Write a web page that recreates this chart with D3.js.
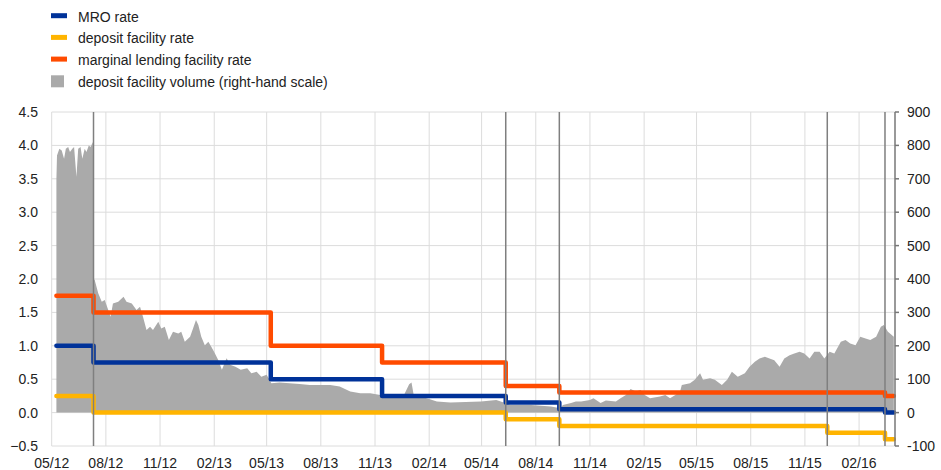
<!DOCTYPE html>
<html>
<head>
    <meta charset="utf-8">
    <title>ECB rates and deposit facility volume</title>
    <style>
    body { margin: 0; background: #fff; }
    text { font-family: "Liberation Sans", Arial, sans-serif; font-size: 14px; fill: #222; }
    .grid line { stroke: #dcdcdc; stroke-width: 1; }
    .event { stroke: #7f7f7f; stroke-width: 1.5; }
    .rate { fill: none; stroke-width: 4.5; stroke-linecap: round; stroke-linejoin: round; }
    </style>
</head>
<body>
    <svg width="941" height="470"></svg>
    <script src="https://d3js.org/d3.v7.min.js"></script>
    <script>
        // key ECB rates, step changes (last point = end of sample)
        var rateDates = ["2012-05-09","2012-07-11","2013-05-08","2013-11-13","2014-06-11","2014-09-10","2015-12-09","2016-03-16","2016-03-31"];
        var mroRate = [1.00, 0.75, 0.50, 0.25, 0.15, 0.05, 0.05, 0.00, 0.00];
        var depositRate = [0.25, 0.00, 0.00, 0.00, -0.10, -0.20, -0.30, -0.40, -0.40];
        var mlfRate = [1.75, 1.50, 1.00, 0.75, 0.40, 0.30, 0.30, 0.25, 0.25];

        // deposit facility volume, EUR bn (right-hand scale)
        var volDates = [
            "2012-05-09","2012-05-10","2012-05-14","2012-05-18","2012-05-22","2012-05-25","2012-05-29","2012-06-01","2012-06-05","2012-06-08",
            "2012-06-12","2012-06-15","2012-06-19","2012-06-22","2012-06-26","2012-06-29","2012-07-03","2012-07-06","2012-07-10","2012-07-11",
            "2012-07-13","2012-07-19","2012-07-25","2012-07-30","2012-08-05","2012-08-09","2012-08-13","2012-08-22","2012-08-31","2012-09-05",
            "2012-09-14","2012-09-22","2012-09-28","2012-10-03","2012-10-09","2012-10-15","2012-10-20","2012-10-29","2012-11-03","2012-11-09",
            "2012-11-16","2012-11-23","2012-12-02","2012-12-07","2012-12-13","2012-12-22","2012-12-27","2013-01-01","2013-01-05","2013-01-10",
            "2013-01-16","2013-01-22","2013-01-27","2013-02-02","2013-02-08","2013-02-14","2013-02-22","2013-02-28","2013-03-09","2013-03-18",
            "2013-03-29","2013-04-05","2013-04-14","2013-04-22","2013-05-01","2013-05-09","2013-05-23","2013-06-09","2013-06-26","2013-07-13",
            "2013-07-31","2013-08-17","2013-09-02","2013-09-20","2013-10-07","2013-10-24","2013-11-10","2013-11-27","2013-12-19","2013-12-29",
            "2014-01-02","2014-01-06","2014-01-11","2014-01-28","2014-02-14","2014-03-09","2014-04-30","2014-05-26","2014-06-10","2014-06-19",
            "2014-07-24","2014-08-27","2014-09-12","2014-09-16","2014-09-30","2014-10-08","2014-10-17","2014-11-01","2014-11-07","2014-11-19",
            "2014-11-28","2014-12-15","2014-12-23","2015-01-01","2015-01-09","2015-01-18","2015-01-26","2015-02-02","2015-02-11","2015-02-28",
            "2015-03-09","2015-03-17","2015-03-26","2015-04-03","2015-04-06","2015-04-20","2015-04-28","2015-05-07","2015-05-12","2015-05-24",
            "2015-06-01","2015-06-13","2015-06-22","2015-06-30","2015-07-10","2015-07-22","2015-07-30","2015-08-08","2015-08-16","2015-08-25",
            "2015-09-02","2015-09-10","2015-09-19","2015-09-27","2015-10-06","2015-10-14","2015-10-23","2015-10-31","2015-11-09","2015-11-17",
            "2015-11-26","2015-12-04","2015-12-13","2015-12-21","2016-01-01","2016-01-09","2016-01-17","2016-01-26","2016-02-03","2016-02-12",
            "2016-02-20","2016-03-01","2016-03-09","2016-03-14","2016-03-21","2016-03-31"
        ];
        var volValues = [
            700, 770, 790, 785, 760, 790, 795, 780, 790, 795,
            706, 790, 795, 760, 790, 780, 800, 795, 810, 400,
            397, 357, 332, 337, 307, 287, 327, 332, 347, 332,
            327, 307, 317, 287, 247, 257, 247, 272, 252, 257,
            217, 242, 237, 242, 212, 227, 252, 277, 262, 227,
            202, 212, 197, 178, 157, 128, 163, 143, 137, 128,
            133, 118, 122, 107, 113, 88, 90, 88, 86, 83,
            83, 83, 78, 63, 58, 58, 53, 48, 48, 85,
            90, 50, 48, 43, 33, 30, 33, 38, 29, 23,
            23, 18, 13, 23, 29, 33, 33, 38, 43, 29,
            36, 33, 43, 53, 71, 63, 68, 53, 43, 48,
            53, 43, 53, 63, 83, 88, 98, 118, 98, 103,
            98, 83, 98, 122, 107, 118, 137, 152, 162, 167,
            162, 157, 137, 162, 172, 177, 182, 177, 162, 182,
            182, 162, 182, 177, 212, 217, 207, 202, 227, 222,
            217, 227, 257, 262, 242, 227
        ];

        // dates of deposit facility rate changes (vertical markers)
        var eventDates = ["2012-07-11","2014-06-11","2014-09-10","2015-12-09","2016-03-16"];

        var xTickLabels = ["05/12","08/12","11/12","02/13","05/13","08/13","11/13","02/14","05/14","08/14","11/14","02/15","05/15","08/15","11/15","02/16"];
        var leftTicks = [-0.5, 0, 0.5, 1, 1.5, 2, 2.5, 3, 3.5, 4, 4.5];
        var rightTicks = [-100, 0, 100, 200, 300, 400, 500, 600, 700, 800, 900];

        var seriesNames = ["MRO rate", "deposit facility rate", "marginal lending facility rate", "deposit facility volume (right-hand scale)"];
        var seriesColors = ["#003299", "#ffb400", "#ff4b00", "#aaaaaa"];

        var parseDate = d3.timeParse("%Y-%m-%d");
        var parseTick = d3.timeParse("%m/%y");

        var plotL = 51.7, plotR = 895, plotT = 112, plotB = 446;

        var x = d3.scaleTime()
            .domain([parseDate("2012-05-01"), parseDate("2016-04-02")])
            .range([plotL, plotR]);
        var yL = d3.scaleLinear().domain([-0.5, 4.5]).range([plotB, plotT]);
        var yR = d3.scaleLinear().domain([-100, 900]).range([plotB, plotT]);

        var svg = d3.select("svg");

        // grid
        var grid = svg.append("g").attr("class", "grid");
        grid.selectAll("line.h")
            .data(leftTicks)
            .enter().append("line")
            .attr("class", "h")
            .attr("x1", plotL).attr("x2", plotR)
            .attr("y1", d => yL(d)).attr("y2", d => yL(d));
        grid.selectAll("line.v")
            .data(xTickLabels)
            .enter().append("line")
            .attr("class", "v")
            .attr("x1", d => x(parseTick(d))).attr("x2", d => x(parseTick(d)))
            .attr("y1", plotT).attr("y2", plotB);

        // deposit facility volume
        var vol = volDates.map((d, i) => ({date: parseDate(d), v: volValues[i]}));
        svg.append("path")
            .datum(vol)
            .attr("fill", seriesColors[3])
            .attr("d", d3.area()
                .x(d => x(d.date))
                .y0(yR(0))
                .y1(d => yR(d.v)));

        // rates
        var rates = [
            {vals: mlfRate, color: seriesColors[2]},
            {vals: mroRate, color: seriesColors[0]},
            {vals: depositRate, color: seriesColors[1]}
        ];
        var line = d3.line()
            .x(d => x(d.date))
            .y(d => yL(d.v))
            .curve(d3.curveStepAfter);
        svg.selectAll("path.rate")
            .data(rates)
            .enter().append("path")
            .attr("class", "rate")
            .attr("stroke", d => d.color)
            .attr("d", d => line(rateDates.map((t, i) => ({date: parseDate(t), v: d.vals[i]}))));

        // rate-change markers
        svg.selectAll("line.event")
            .data(eventDates)
            .enter().append("line")
            .attr("class", "event")
            .attr("x1", d => x(parseDate(d))).attr("x2", d => x(parseDate(d)))
            .attr("y1", plotT).attr("y2", plotB);

        // left axis labels
        svg.append("g").selectAll("text")
            .data(leftTicks)
            .enter().append("text")
            .attr("x", 38)
            .attr("y", d => yL(d))
            .attr("dy", "0.35em")
            .attr("text-anchor", "end")
            .text(d => d3.format(".1f")(d));

        // right axis
        var rAxis = svg.append("g");
        rAxis.append("line")
            .attr("x1", plotR).attr("x2", plotR)
            .attr("y1", plotT).attr("y2", plotB)
            .attr("stroke", "#777").attr("stroke-width", 1.5);
        rAxis.selectAll("line.tick")
            .data(rightTicks)
            .enter().append("line")
            .attr("class", "tick")
            .attr("x1", plotR).attr("x2", plotR + 4)
            .attr("y1", d => yR(d)).attr("y2", d => yR(d))
            .attr("stroke", "#777").attr("stroke-width", 1.5);
        rAxis.selectAll("text")
            .data(rightTicks)
            .enter().append("text")
            .attr("x", 907)
            .attr("y", d => yR(d))
            .attr("dy", "0.35em")
            .text(d => d);

        // x labels
        svg.append("g").selectAll("text")
            .data(xTickLabels)
            .enter().append("text")
            .attr("x", d => x(parseTick(d)))
            .attr("y", 468)
            .attr("text-anchor", "middle")
            .text(d => d);

        // legend
        var legend = svg.append("g").selectAll("g")
            .data(seriesNames)
            .enter().append("g")
            .attr("transform", (d, i) => "translate(51," + (21.7 + i * 21.7) + ")");
        legend.append("rect")
            .attr("x", 0)
            .attr("y", (d, i) => i == 3 ? -11.5 : -8.5)
            .attr("width", (d, i) => i == 3 ? 13 : 16)
            .attr("height", (d, i) => i == 3 ? 12 : 5)
            .attr("fill", (d, i) => seriesColors[i]);
        legend.append("text")
            .attr("x", 27)
            .attr("y", 0)
            .text(d => d);
    </script>
</body>
</html>
